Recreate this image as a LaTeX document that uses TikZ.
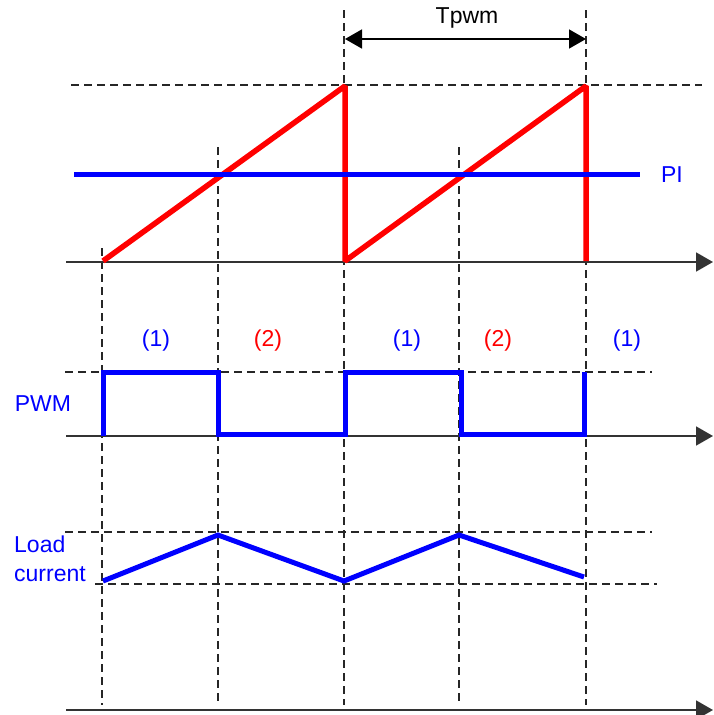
\documentclass[tikz,border=0pt]{standalone}
\usepackage{fontspec}
\setmainfont{Liberation Sans}
\usetikzlibrary{arrows.meta}

\begin{document}
\begin{tikzpicture}[x=1pt,y=-1pt,>={Triangle[length=17pt,width=19pt]},
    guide/.style={black!85,line width=1.1pt,dash pattern=on 8pt off 5pt},
    axis/.style={->,black!80,line width=1.8pt},
    saw/.style={red,line width=5.5pt,line join=bevel},
    sig/.style={blue,line width=5pt,line join=miter},
    lbl/.style={inner sep=0pt,font=\fontsize{23}{27}\selectfont}]

            \useasboundingbox (0,0) rectangle (714,715);

            % time marks
            \coordinate (t0) at (102,0);
            \coordinate (t1) at (218,0);
            \coordinate (t2) at (344,0);
            \coordinate (t3) at (459,0);
            \coordinate (t4) at (586,0);

            % dashed guides
            \draw[guide] (102,248) -- (102,705);
            \draw[guide] (218,147) -- (218,705);
            \draw[guide] (344,10) -- (344,705);
            \draw[guide] (459,147) -- (459,705);
            \draw[guide] (586,10) -- (586,705);
            \draw[guide] (71,85) -- (702,85);
            \draw[guide] (65,372) -- (652,372);
            \draw[guide] (65,532) -- (652,532);
            \draw[guide] (95,584) -- (657,584);

            % axes
            \coordinate (a1) at (66,262);  \coordinate (b1) at (713,262);
            \coordinate (a2) at (66,436);  \coordinate (b2) at (713,436);
            \coordinate (a3) at (66,710);  \coordinate (b3) at (713,710);
            \draw[axis] (a1) -- (b1);
            \draw[axis] (a2) -- (b2);
            \draw[axis] (a3) -- (b3);

            % period
            \coordinate (p1) at (345,39);
            \coordinate (p2) at (586,39);
            \draw[<->,black,line width=1.5pt] (p1) -- (p2);
            \node[lbl] (tpwm) at (467,18) {Tpwm};

            % carrier and reference
            \draw[saw] (103,261) -- (345,86) -- (345,261) -- (586,86) -- (586,261);
            \coordinate (pi1) at (74,174);
            \coordinate (pi2) at (640,174);
            \draw[blue,line width=5pt] (pi1) -- (pi2);
            \node[lbl,blue] (pi) at (672,175) {PI};

            % pwm
            \draw[sig] (103,436) -- (103,372) -- (218,372) -- (218,434) -- (345,434)
                -- (345,372) -- (461,372) -- (461,434) -- (584,434) -- (584,372);
            \node[lbl,blue] (pwm) at (43,404) {PWM};
            \node[lbl,blue] (s1) at (156,341) {(1)};
            \node[lbl,red] (s2) at (268,341) {(2)};
            \node[lbl,blue] (s3) at (407,341) {(1)};
            \node[lbl,red] (s4) at (498,341) {(2)};
            \node[lbl,blue] (s5) at (627,341) {(1)};

            % load current
            \draw[sig] (103,581) -- (218,535) -- (344,581) -- (459,535) -- (584,577);
            \node[lbl,blue,anchor=base west] (ld1) at (14,552) {Load};
            \node[lbl,blue,anchor=base west] (ld2) at (14,581) {current};

            ;
        \end{tikzpicture}
\end{document}
